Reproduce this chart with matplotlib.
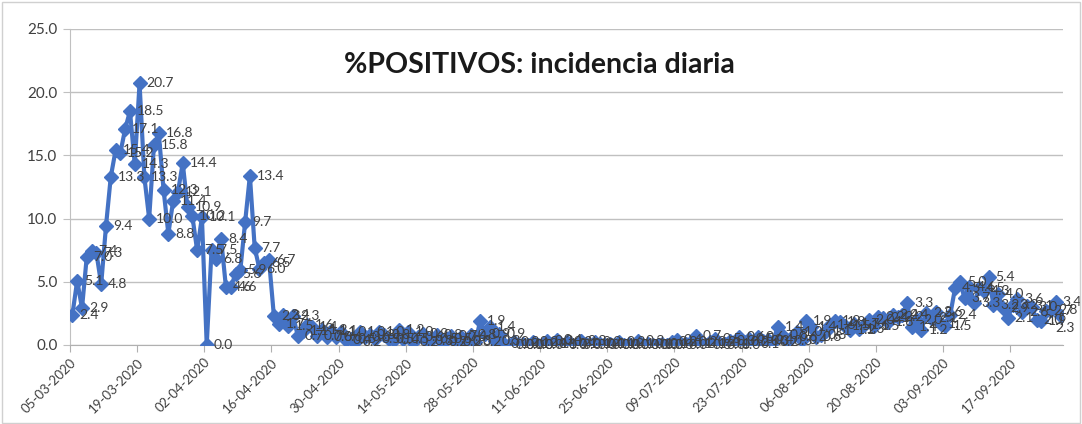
import numpy as np
import pandas as pd
import matplotlib
matplotlib.use("Agg")
import matplotlib.pyplot as plt
from matplotlib.patches import Rectangle

# Datos: % positivos diario desde 05-03-2020
fecha_inicio = "2020-03-05"
positivos = [
    2.4, 5.1, 2.9, 7.0, 7.4, 7.3, 4.8, 9.4, 13.3, 15.4,
    15.2, 17.1, 18.5, 14.3, 20.7, 13.3, 10.0, 15.8, 16.8, 12.3,
    8.8, 11.4, 12.1, 14.4, 10.9, 10.2, 7.5, 10.1, 0.0, 7.5,
    6.8, 8.4, 4.6, 4.6, 5.6, 5.9, 9.7, 13.4, 7.7, 6.0,
    6.5, 6.7, 2.3, 1.7, 2.4, 1.5, 2.3, 0.7, 1.1, 1.6,
    1.4, 0.7, 1.2, 0.6, 1.1, 0.6, 1.0, 0.4, 0.5, 0.2,
    1.0, 0.6, 0.8, 0.5, 1.0, 0.8, 0.5, 0.4, 1.2, 0.5,
    1.0, 0.2, 0.6, 0.9, 0.3, 0.5, 0.8, 0.2, 0.5, 0.7,
    0.2, 0.6, 0.3, 0.8, 0.2, 1.9, 0.9, 1.4, 0.3, 0.9,
    0.1, 0.0, 0.2, 0.0, 0.1, 0.0, 0.2, 0.0, 0.1, 0.3,
    0.1, 0.4, 0.0, 0.2, 0.1, 0.0, 0.3, 0.1, 0.0, 0.2,
    0.1, 0.0, 0.1, 0.0, 0.2, 0.0, 0.1, 0.0, 0.3, 0.0,
    0.1, 0.0, 0.0, 0.1, 0.0, 0.2, 0.4, 0.0, 0.1, 0.2,
    0.7, 0.1, 0.0, 0.2, 0.5, 0.0, 0.1, 0.3, 0.0, 0.6,
    0.2, 0.5, 0.1, 0.6, 0.3, 0.4, 0.2, 1.4, 0.8, 0.3,
    0.6, 1.0, 0.4, 1.9, 1.4, 0.6, 0.8, 1.1, 1.6, 1.9,
    1.8, 1.5, 1.2, 1.7, 1.3, 1.6, 2.0, 1.5, 2.2, 2.1,
    1.8, 2.4, 2.2, 2.4, 3.3, 1.4, 2.0, 1.2, 2.5, 2.1,
    2.6, 1.7, 1.5, 2.4, 4.5, 5.0, 3.7, 4.6, 3.3, 4.5,
    4.3, 5.4, 3.2, 4.0, 2.9, 2.1, 3.2, 3.6, 2.6, 3.1,
    3.0, 2.0, 1.9, 2.7, 2.8, 3.4, 2.3,
]
fechas = pd.date_range(fecha_inicio, periods=len(positivos), freq="D")
yticks = [0, 5, 10, 15, 20, 25]
titulo = "%POSITIVOS: incidencia diaria"

plt.rcParams["font.family"] = ["Lato", "DejaVu Sans"]

fig = plt.figure(figsize=(10.82, 4.24), dpi=100)
ax = fig.add_axes([70 / 1082, 79 / 424, 993 / 1082, 316 / 424])

medio_dia = pd.Timedelta(hours=12)
ax.plot(fechas, positivos, color="#4472C4", linewidth=3, marker="D",
        markersize=7, zorder=3)

# Etiquetas de datos (la última se mete dentro del borde)
n = len(positivos)
for i, (f, v) in enumerate(zip(fechas, positivos)):
    desp = (5, 0) if i < n - 1 else (-4, -9)
    ax.annotate(f"{v:.1f}", (f, v), xytext=desp, textcoords="offset points",
                ha="left", va="center", fontsize=10, color="#404040", zorder=4)

ax.set_xlim(fechas[0] - medio_dia, fechas[-1] + medio_dia)
ax.set_ylim(0, 25)
ax.set_yticks(yticks)
ax.set_yticklabels([f"{t:.1f}" for t in yticks], fontsize=11, color="#404040")

ticks_x = fechas[::14] - medio_dia
ax.set_xticks(ticks_x)
ax.set_xticklabels([f.strftime("%d-%m-%Y") for f in fechas[::14]], rotation=45,
                   ha="right", va="top", rotation_mode="anchor", fontsize=9.5,
                   color="#404040")

ax.grid(axis="y", color="#c0c0c0", linewidth=1)
ax.set_axisbelow(True)
for lado in ["top", "right"]:
    ax.spines[lado].set_visible(False)
ax.spines["left"].set_color("#c0c0c0")
ax.spines["bottom"].set_color("#b0b0b0")
ax.tick_params(axis="x", length=5, color="#b0b0b0", pad=3)
ax.tick_params(axis="y", length=5, color="#c0c0c0", pad=4)

ax.text(0.473, 0.885, titulo, transform=ax.transAxes, ha="center", va="center",
        fontsize=20.5, fontweight="bold", color="#1a1a1a")

# Borde del gráfico
fig.patches.append(Rectangle((0.002, 0.002), 0.996, 0.993, transform=fig.transFigure,
                             fill=False, edgecolor="#d0d0d0", linewidth=1))

fig.savefig("out.png", dpi=100)
